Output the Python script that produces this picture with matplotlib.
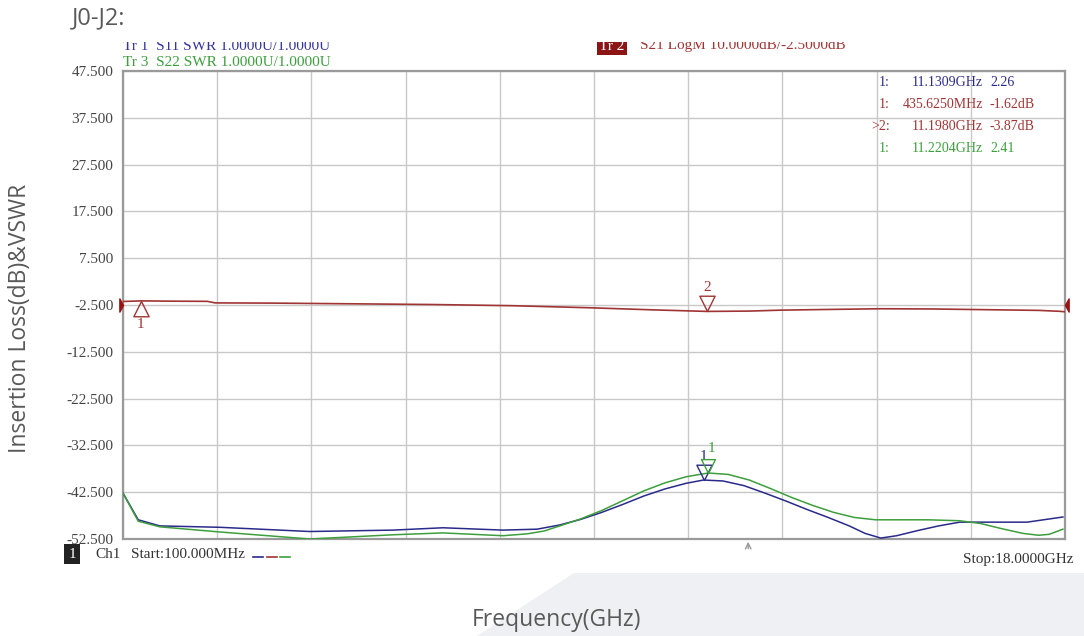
import numpy as np
import matplotlib.pyplot as plt
from matplotlib.path import Path
from matplotlib.patches import Polygon, Rectangle
from matplotlib.lines import Line2D

# S21 LogM trace (GHz, dB)
s21_f = [0.1, 0.44, 1.0, 1.7, 1.85, 3.0, 4.5, 6.0, 7.5, 9.0, 10.2, 11.2, 12.0,
         12.6, 13.5, 14.5, 15.5, 16.5, 17.5, 17.9, 18.0]
s21_db = [-1.75, -1.62, -1.68, -1.72, -2.05, -2.10, -2.25, -2.40, -2.65, -3.10,
          -3.55, -3.87, -3.80, -3.60, -3.45, -3.30, -3.35, -3.50, -3.65, -3.85, -3.95]

# S11 SWR trace (GHz, U)
s11_f = [0.1, 0.39, 0.8, 1.94, 3.65, 5.23, 6.18, 7.32, 7.97, 8.4, 8.8, 9.2, 9.6,
         10.0, 10.4, 10.8, 11.13, 11.5, 11.9, 12.3, 12.7, 13.1, 13.5, 13.9, 14.2,
         14.5, 14.8, 15.2, 15.6, 16.0, 16.63, 17.28, 17.96]
s11_swr = [1.98, 1.41, 1.28, 1.25, 1.16, 1.19, 1.24, 1.19, 1.21, 1.30, 1.42, 1.57, 1.74,
           1.92, 2.07, 2.19, 2.26, 2.24, 2.14, 1.98, 1.81, 1.63, 1.46, 1.28, 1.12,
           1.02, 1.07, 1.18, 1.28, 1.36, 1.36, 1.36, 1.47]

# S22 SWR trace (GHz, U)
s22_f = [0.1, 0.39, 0.8, 1.94, 3.65, 5.23, 6.18, 7.32, 7.78, 8.1, 8.4, 8.8, 9.2,
         9.6, 10.0, 10.4, 10.8, 11.22, 11.6, 12.0, 12.4, 12.8, 13.2, 13.6, 14.0,
         14.4, 15.4, 16.0, 16.4, 16.8, 17.2, 17.5, 17.7, 17.96]
s22_swr = [1.98, 1.38, 1.26, 1.15, 1.00, 1.09, 1.13, 1.07, 1.11, 1.17, 1.28, 1.43, 1.61,
           1.82, 2.03, 2.20, 2.33, 2.41, 2.38, 2.26, 2.08, 1.89, 1.72, 1.57, 1.46,
           1.41, 1.41, 1.39, 1.33, 1.22, 1.12, 1.08, 1.10, 1.21]

# markers
m21_f = [0.435625, 11.198]
m21_db = [-1.62, -3.87]
m11_f, m11_swr = 11.1309, 2.26
m22_f, m22_swr = 11.2204, 2.41

f_start, f_stop = 0.1, 18.0
y_top, y_bot = 47.5, -52.5
ref_db = -2.5
swr_ref, swr_div = 1.0, 1.0
y_ticks = np.arange(y_bot, y_top + 0.1, 10)

c_blue = '#2a2a8a'
c_red = '#a03434'
c_green = '#3d9e3d'
c_txt = '#444444'
mono = ['Liberation Serif']
sans = ['Open Sans']
fs = 11


def swr_axis(v):
    # SWR trace: reference at bottom line, 1U per division
    return y_bot + (np.asarray(v) - swr_ref) / swr_div * 10


W, H = 1084, 636
fig = plt.figure(figsize=(W / 100, H / 100), dpi=100)
fig.patch.set_facecolor('white')


def fx(x):
    return x / W


def fy(y):
    return 1 - y / H


ax = fig.add_axes([fx(123), fy(539), (1065 - 123) / W, (539 - 71) / H])
ax.set_xlim(f_start, f_stop)
ax.set_ylim(y_bot, y_top)
ax.set_xticks(np.linspace(f_start, f_stop, 11))
ax.set_yticks(y_ticks)
ax.set_yticklabels(['%.3f' % v for v in y_ticks], family=mono, fontsize=fs, color=c_txt)
ax.set_xticklabels([])
ax.tick_params(length=0, pad=7)
ax.grid(True, color='#c8c8c8', lw=1)
for s in ax.spines.values():
    s.set_color('#9a9a9a')
    s.set_linewidth(1.6)

ax.plot(s21_f, s21_db, color=c_red, lw=1.2, zorder=3)
ax.plot(s11_f, swr_axis(s11_swr), color=c_blue, lw=1.1, zorder=3)
ax.plot(s22_f, swr_axis(s22_swr), color=c_green, lw=1.1, zorder=3)

# marker shapes, apex on the trace
tri_down = Path([(0, 0), (-0.5, 1), (0.5, 1), (0, 0)], [1, 2, 2, 79])
tri_up = Path([(0, 0), (-0.5, -1), (0.5, -1), (0, 0)], [1, 2, 2, 79])
ref_r = Path([(0, 0), (-0.55, 1), (-0.55, -1), (0, 0)], [1, 2, 2, 79])
ref_l = Path([(0, 0), (0.55, 1), (0.55, -1), (0, 0)], [1, 2, 2, 79])

ax.plot(m21_f[0], m21_db[0], marker=tri_up, ms=22, mfc='none', mec=c_red, mew=1, zorder=4)
ax.annotate('1', (m21_f[0], m21_db[0]), xytext=(0, -17), textcoords='offset points',
            ha='center', va='center', color=c_red, family=mono, fontsize=fs)
ax.plot(m21_f[1], m21_db[1], marker=tri_down, ms=22, mfc='none', mec=c_red, mew=1, zorder=4)
ax.annotate('2', (m21_f[1], m21_db[1]), xytext=(0, 17), textcoords='offset points',
            ha='center', va='center', color=c_red, family=mono, fontsize=fs)
ax.plot(m11_f, swr_axis(m11_swr), marker=tri_down, ms=22, mfc='none', mec=c_blue, mew=1, zorder=4)
ax.annotate('1', (m11_f, swr_axis(m11_swr)), xytext=(0, 17), textcoords='offset points',
            ha='center', va='center', color=c_blue, family=mono, fontsize=fs)
ax.plot(m22_f, swr_axis(m22_swr), marker=tri_down, ms=20, mfc='none', mec=c_green, mew=1, zorder=4)
ax.annotate('1', (m22_f, swr_axis(m22_swr)), xytext=(2, 18), textcoords='offset points',
            ha='center', va='center', color=c_green, family=mono, fontsize=fs)

# reference position arrows for S21
ax.plot(f_start, ref_db, marker=ref_r, ms=9.5, color='#9b1010', clip_on=False, zorder=5)
ax.plot(f_stop, ref_db, marker=ref_l, ms=9.5, color='#9b1010', clip_on=False, zorder=5)

# small arrow below the grid
ax.annotate('', xy=(11.98, y_bot), xytext=(0, -9), textcoords='offset points',
            arrowprops=dict(arrowstyle='->', color='#999999', lw=1), annotation_clip=False)

# marker readout
rows = [('1:', '11.1309GHz', '2.26', c_blue),
        ('1:', '435.6250MHz', '-1.62dB', c_red),
        ('>2:', '11.1980GHz', '-3.87dB', c_red),
        ('1:', '11.2204GHz', '2.41', c_green)]
for i, (a, b, c, col) in enumerate(rows):
    y = fy(83 + i * 21.8)
    fig.text(fx(890), y, a, ha='right', va='center', color=col, family=mono, fontsize=10)
    fig.text(fx(983), y, b, ha='right', va='center', color=col, family=mono, fontsize=10)
    fig.text(fx(990), y, c, ha='left', va='center', color=col, family=mono, fontsize=10)

# header lines (top of screenshot is cut)
fig.text(fx(123), fy(46), 'Tr 1  S11 SWR 1.0000U/1.0000U', va='center', color='#3535a0',
         family=mono, fontsize=fs, zorder=3)
fig.text(fx(123), fy(62), 'Tr 3  S22 SWR 1.0000U/1.0000U', va='center', color=c_green,
         family=mono, fontsize=fs, zorder=3)
fig.text(fx(599), fy(46), 'Tr 2', va='center', color='white', family=mono, fontsize=fs, zorder=3,
         bbox=dict(boxstyle='square,pad=0.15', fc='#8b1515', ec='none'))
fig.text(fx(640), fy(46), 'S21 LogM 10.0000dB/-2.5000dB', va='center', color=c_red,
         family=mono, fontsize=fs, zorder=3)
fig.patches.append(Rectangle((fx(55), fy(42)), 1, 1, transform=fig.transFigure,
                             fc='white', ec='none', zorder=5))

# bottom status line
fig.text(fx(72), fy(554), '1', ha='center', va='center', color='white', family=mono, fontsize=fs,
         bbox=dict(boxstyle='square,pad=0.25', fc='#222222', ec='none'))
fig.text(fx(95), fy(554), 'Ch1', va='center', color='#333333', family=mono, fontsize=fs)
fig.text(fx(131), fy(554), 'Start:100.000MHz', va='center', color='#333333', family=mono, fontsize=fs)
for x0, col in [(253, c_blue), (267, c_red), (280, c_green)]:
    fig.add_artist(Line2D([fx(x0), fx(x0 + 10)], [fy(557), fy(557)], color=col, lw=1.2))
fig.text(fx(1073), fy(560), 'Stop:18.0000GHz', ha='right', va='center', color='#333333',
         family=mono, fontsize=fs)

# light background shape at the bottom
fig.patches.append(Polygon([(fx(574), fy(573)), (fx(1084), fy(573)), (fx(1084), fy(636)),
                            (fx(477), fy(636))], closed=True, transform=fig.transFigure,
                           fc='#eff0f4', ec='none', zorder=0))

fig.text(fx(72), fy(18), 'J0-J2:', va='center', color='#595959', family=sans, fontsize=17, zorder=6)
fig.text(fx(20), fy(318), 'Insertion Loss(dB)&VSWR', ha='center', va='center', rotation=90,
         color='#595959', family=sans, fontsize=16.5)
fig.text(fx(556), fy(620), 'Frequency(GHz)', ha='center', va='center', color='#595959',
         family=sans, fontsize=16.5)

fig.savefig('out.png', dpi=100)
